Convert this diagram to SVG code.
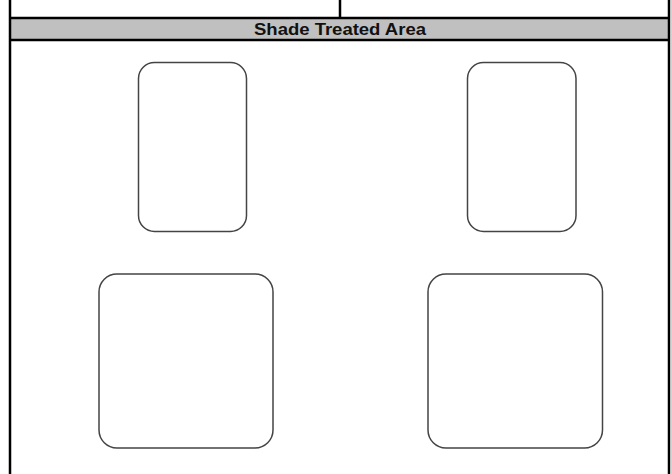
<svg xmlns="http://www.w3.org/2000/svg" width="671" height="474" viewBox="0 0 671 474">
<style>
.frame{stroke:#000;stroke-width:2.5;fill:none}
.box{fill:#fff;stroke:#444;stroke-width:1.5}
.title{font-family:"Liberation Sans",Arial,sans-serif;font-weight:bold;font-size:16px;fill:#111}
</style>
<rect width="671" height="474" fill="#fff"/>
<g id="header">
<rect x="10" y="18" width="659" height="22" fill="#c0c0c0"/>
<line class="frame" x1="10" y1="18" x2="669" y2="18"/>
<line class="frame" x1="10" y1="40" x2="669" y2="40"/>
<line class="frame" x1="340" y1="0" x2="340" y2="18"/>
<text class="title" x="340" y="34.5" text-anchor="middle" textLength="172" lengthAdjust="spacingAndGlyphs">Shade Treated Area</text>
</g>
<g id="frame">
<line class="frame" x1="10" y1="0" x2="10" y2="474"/>
<line class="frame" x1="669" y1="0" x2="669" y2="474"/>
</g>
<g id="box-top-left"><rect class="box" x="138.5" y="62.5" width="108" height="169" rx="16"/></g>
<g id="box-top-right"><rect class="box" x="467.5" y="62.5" width="108.5" height="169" rx="16"/></g>
<g id="box-bottom-left"><rect class="box" x="99" y="274" width="174" height="174" rx="18"/></g>
<g id="box-bottom-right"><rect class="box" x="428" y="274" width="174.5" height="174" rx="18"/></g>
<g id="connectors"></g>
</svg>
